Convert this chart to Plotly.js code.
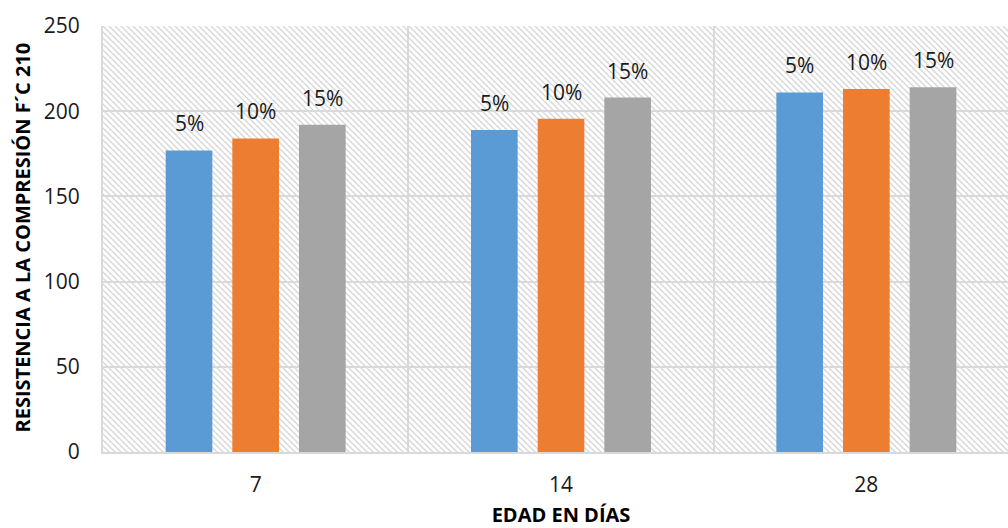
<!DOCTYPE html>
<html><head><meta charset="utf-8">
<script src="https://cdn.plot.ly/plotly-3.0.1.min.js"></script>
<style>
html,body{margin:0;padding:0;overflow:hidden;background:#fff}
#wrap{position:relative;width:1030px;height:528px}
#hatch{position:absolute;z-index:0;background-color:#fff;
 background-image:url("data:image/svg+xml,%3Csvg xmlns='http://www.w3.org/2000/svg' width='6' height='6'%3E%3Cpath d='M0,0 L6,6 M-1,5 L1,7 M5,-1 L7,1' stroke='%23d6d6d6' stroke-width='1.3'/%3E%3C/svg%3E");}
#chart{position:absolute;left:0;top:0;z-index:1;width:1030px;height:528px}
</style>
</head><body><div id="wrap"><div id="hatch"></div><div id="chart"></div></div>
<script>
var categories = ['7', '14', '28'];
var seriesNames = ['5%', '10%', '15%'];
var values5 = [177, 189, 211];
var values10 = [184, 195.5, 213];
var values15 = [192, 208, 214];
var yTicks = [0, 50, 100, 150, 200, 250];
var colors = ['#5b9bd5', '#ed7d31', '#a5a5a5'];
var allValues = [values5, values10, values15];

var bargap = 0.345;
var slot = (1 - bargap) / allValues.length;

var traces = allValues.map(function (v, i) {
  return {
    type: 'bar', x: categories, y: v, name: seriesNames[i],
    marker: {color: colors[i]}, hoverinfo: 'x+y'
  };
});

var annotations = [];
allValues.forEach(function (v, i) {
  v.forEach(function (val, j) {
    annotations.push({
      x: j + (i - (allValues.length - 1) / 2) * slot, y: val, xref: 'x', yref: 'y',
      text: seriesNames[i], showarrow: false, yanchor: 'bottom', yshift: 11,
      font: {family: 'Open Sans', size: 21, color: '#1a1a1a'}
    });
  });
});
annotations.push({
  text: '<b>RESISTENCIA A LA COMPRESIÓN F´C 210</b>', textangle: -90,
  xref: 'paper', yref: 'paper', x: 0, y: 0.5, xanchor: 'center', yanchor: 'middle',
  xshift: -81, yshift: 1.5, showarrow: false,
  font: {family: 'Open Sans', size: 20, color: '#000'}
});

var layout = {
  width: 1030, height: 528,
  margin: {l: 103, r: 10.5, t: 25.5, b: 76},
  paper_bgcolor: 'rgba(0,0,0,0)', plot_bgcolor: 'rgba(0,0,0,0)',
  showlegend: false,
  barmode: 'group', bargap: bargap, bargroupgap: 0.3,
  font: {family: 'Open Sans', color: '#1a1a1a'},
  annotations: annotations,
  xaxis: {
    type: 'category', tickson: 'boundaries', showgrid: true, gridcolor: '#d9d9d9', gridwidth: 2,
    showline: true, linecolor: '#d9d9d9', linewidth: 2, ticks: '', ticklabelstandoff: 13,
    tickfont: {size: 21, color: '#1a1a1a'},
    title: {text: '<b>EDAD EN DÍAS</b>', font: {size: 20, color: '#000'}, standoff: 14}
  },
  yaxis: {
    range: [0, 250], tickvals: yTicks, showgrid: true, gridcolor: '#d9d9d9', gridwidth: 2,
    showline: true, linecolor: '#d9d9d9', linewidth: 2, ticks: '', ticklabelstandoff: 17,
    tickfont: {size: 21, color: '#1a1a1a'}, zeroline: false
  }
};

function placeHatch(gd) {
  var s = gd._fullLayout._size;
  var h = document.getElementById('hatch');
  h.style.left = s.l + 'px'; h.style.top = s.t + 'px';
  h.style.width = s.w + 'px'; h.style.height = s.h + 'px';
}

var gd = document.getElementById('chart');
Plotly.newPlot(gd, traces, layout, {displayModeBar: false, staticPlot: true}).then(function () {
  placeHatch(gd);
});
</script></body></html>
